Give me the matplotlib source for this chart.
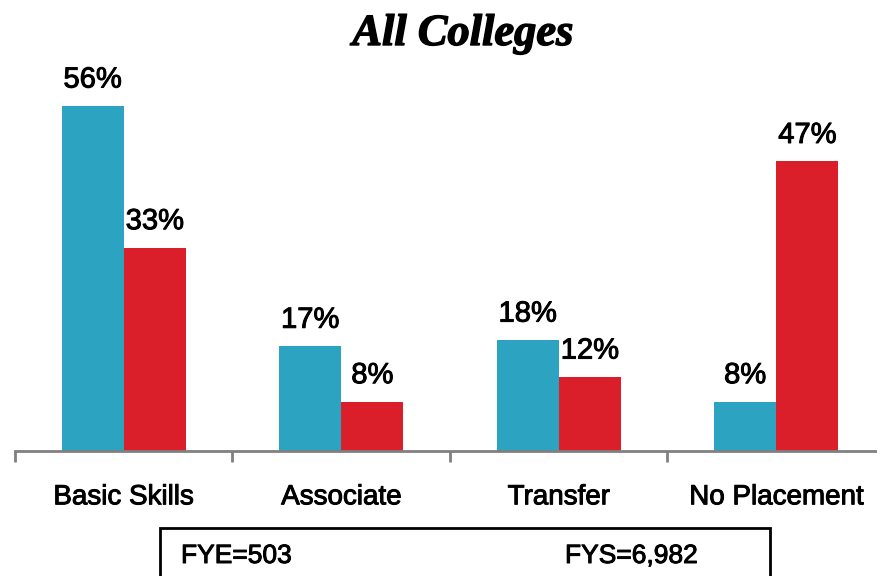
import matplotlib
matplotlib.use("Agg")
import matplotlib.pyplot as plt
import matplotlib.patheffects as pe
from matplotlib.patches import Rectangle
import numpy as np

categories = ["Basic Skills", "Associate", "Transfer", "No Placement"]
fye_values = [56, 17, 18, 8]
fys_values = [33, 8, 12, 47]
title = "All Colleges"
fye_note = "FYE=503"
fys_note = "FYS=6,982"

teal = "#2CA3C0"
red = "#DA1F2A"

plt.rcParams['font.family'] = ['Liberation Sans', 'DejaVu Sans']
heavy = [pe.withStroke(linewidth=0.7, foreground="black")]

W, H = 878, 576
fig = plt.figure(figsize=(W / 100, H / 100), dpi=100)
ax = fig.add_axes([15 / W, 1 - 451 / H, 870 / W, (451 - 60) / H])

x = np.arange(len(categories))
bw = 0.286
b1 = ax.bar(x - bw / 2, fye_values, bw, color=teal, linewidth=0)
b2 = ax.bar(x + bw / 2, fys_values, bw, color=red, linewidth=0)

for bars, vals in ((b1, fye_values), (b2, fys_values)):
    for r, v in zip(bars, vals):
        ax.annotate(f"{v}%", (r.get_x() + r.get_width() / 2, r.get_height()),
                    xytext=(0, 9), textcoords="offset points",
                    ha="center", va="bottom", fontsize=21, color="black",
                    path_effects=heavy)

ax.set_xlim(-0.5, len(categories) - 0.5)
ax.set_ylim(0, 391 / 6.16)
for s in ("top", "right", "left"):
    ax.spines[s].set_visible(False)
ax.spines["bottom"].set_color("#808080")
ax.spines["bottom"].set_linewidth(2)
ax.set_yticks([])
ax.set_xticks(np.arange(-0.5, len(categories)))
ax.set_xticklabels([])
ax.tick_params(axis="x", which="major", direction="out", length=8, width=2, color="#808080")
ax.set_xticks(x, minor=True)
ax.set_xticklabels(categories, minor=True, fontsize=20)
for lbl in ax.get_xticklabels(minor=True):
    lbl.set_path_effects(heavy)
ax.tick_params(axis="x", which="minor", length=0, pad=24)

fig.text(463 / W, 1 - 34 / H, title, ha="center", va="center",
         fontsize=32, fontweight="bold", fontstyle="italic",
         family=["Liberation Serif", "DejaVu Serif"],
         path_effects=[pe.withStroke(linewidth=1.0, foreground="black")])

fig.patches.append(Rectangle((160 / W, -0.1), (770 - 160) / W, 0.1 + (576 - 528) / H,
                             transform=fig.transFigure, fill=False,
                             edgecolor="black", linewidth=2, figure=fig))
fig.text(181 / W, 1 - 556 / H, fye_note, ha="left", va="center", fontsize=19,
         path_effects=heavy)
fig.text(565 / W, 1 - 556 / H, fys_note, ha="left", va="center", fontsize=19,
         path_effects=heavy)

fig.savefig("out.png", dpi=100)
